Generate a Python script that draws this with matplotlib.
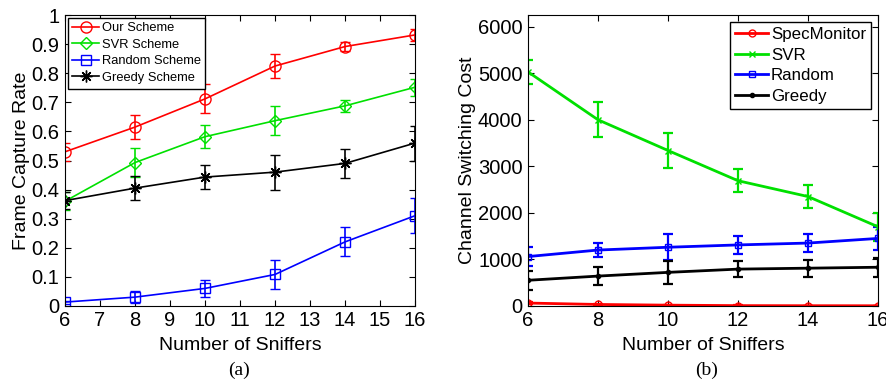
import matplotlib
matplotlib.use("Agg")
import matplotlib.pyplot as plt

plt.rcParams['font.family'] = ['Liberation Sans', 'DejaVu Sans']

sniffers = [6, 8, 10, 12, 14, 16]

# (a) frame capture rate
our_rate = [0.53, 0.615, 0.712, 0.825, 0.892, 0.932]
our_err = [0.03, 0.04, 0.05, 0.04, 0.015, 0.02]
svr_rate = [0.36, 0.493, 0.582, 0.637, 0.688, 0.752]
svr_err = [0.03, 0.05, 0.04, 0.05, 0.02, 0.03]
rnd_rate = [0.013, 0.03, 0.06, 0.108, 0.22, 0.31]
rnd_err = [0.005, 0.02, 0.03, 0.05, 0.05, 0.06]
grd_rate = [0.362, 0.405, 0.443, 0.46, 0.49, 0.56]
grd_err = [0.03, 0.04, 0.04, 0.06, 0.05, 0.06]

# (b) channel switching cost
spec_cost = [60, 30, 15, 5, 3, 2]
spec_err = [20, 15, 10, 5, 3, 2]
svr_cost = [5030, 4000, 3340, 2690, 2350, 1700]
svr_cerr = [250, 380, 370, 250, 250, 300]
rnd_cost = [1060, 1200, 1260, 1310, 1350, 1450]
rnd_cerr = [200, 150, 280, 200, 200, 250]
grd_cost = [550, 640, 720, 790, 810, 830]
grd_cerr = [200, 200, 250, 180, 180, 200]

fig = plt.figure(figsize=(8.86, 3.79), dpi=100)
ax1 = fig.add_axes([0.0734, 0.193, 0.395, 0.767])
ax2 = fig.add_axes([0.596, 0.193, 0.395, 0.767])

# left panel
handles, labels = [], []
for y, e, c, m, lab in [(our_rate, our_err, 'red', 'o', 'Our Scheme'),
                        (svr_rate, svr_err, '#00e000', 'D', 'SVR Scheme'),
                        (rnd_rate, rnd_err, 'blue', 's', 'Random Scheme'),
                        (grd_rate, grd_err, 'black', (8, 2, 0), 'Greedy Scheme')]:
    ms = {'o': 8, 'D': 6.5, 's': 7}.get(m, 8.5) if isinstance(m, str) else 8.5
    eb = ax1.errorbar(sniffers, y, yerr=e, color=c, marker=m, mfc='none', ms=ms,
                      lw=1.2, elinewidth=1.2, capsize=3.5)
    handles.append(eb[0])
    labels.append(lab)
ax1.set_xlim(6, 16)
ax1.set_ylim(0, 1)
ax1.set_xticks(range(6, 17))
ax1.set_yticks([i / 10 for i in range(11)])
ax1.set_yticklabels(['0'] + ['%.1f' % (i / 10) for i in range(1, 10)] + ['1'])
ax1.set_xlabel('Number of Sniffers', fontsize=14, labelpad=5)
ax1.set_ylabel('Frame Capture Rate', fontsize=14, labelpad=1)
ax1.tick_params(labelsize=14.5, direction='in', length=4, top=True, right=True, pad=4)
ax1.legend(handles, labels, loc='upper left', fontsize=9.3, fancybox=False,
           edgecolor='black', borderaxespad=0.2, handlelength=2.1,
           labelspacing=0.35, handletextpad=0.2, borderpad=0.35, framealpha=1)

# right panel
handles, labels = [], []
for y, e, c, m, lab in [(spec_cost, spec_err, 'red', 'o', 'SpecMonitor'),
                        (svr_cost, svr_cerr, '#00e000', 'x', 'SVR'),
                        (rnd_cost, rnd_cerr, 'blue', 's', 'Random'),
                        (grd_cost, grd_cerr, 'black', '.', 'Greedy')]:
    ms = {'o': 5, 'x': 4, 's': 4.5, '.': 6}[m]
    eb = ax2.errorbar(sniffers, y, yerr=e, color=c, marker=m,
                      mfc='none' if m in 'os' else c, ms=ms, lw=2,
                      elinewidth=1.6, capsize=3.5, capthick=1.6)
    handles.append(eb[0])
    labels.append(lab)
ax2.set_xlim(6, 16)
ax2.set_ylim(0, 6250)
ax2.set_xticks(sniffers)
ax2.set_yticks(range(0, 6001, 1000))
ax2.set_xlabel('Number of Sniffers', fontsize=14, labelpad=5)
ax2.set_ylabel('Channel Switching Cost', fontsize=14, labelpad=1)
ax2.tick_params(labelsize=14.5, direction='in', length=4, top=True, right=True, pad=4)
ax2.legend(handles, labels, loc='upper right', fontsize=12.2, fancybox=False,
           edgecolor='black', borderaxespad=0.4, handlelength=1.9,
           labelspacing=0.33, handletextpad=0.2, borderpad=0.3, framealpha=1)

fig.text(0.27, 0.01, '(a)', fontsize=14, family='Liberation Serif', ha='center')
fig.text(0.797, 0.01, '(b)', fontsize=14, family='Liberation Serif', ha='center')

fig.savefig('out.png', dpi=100)
